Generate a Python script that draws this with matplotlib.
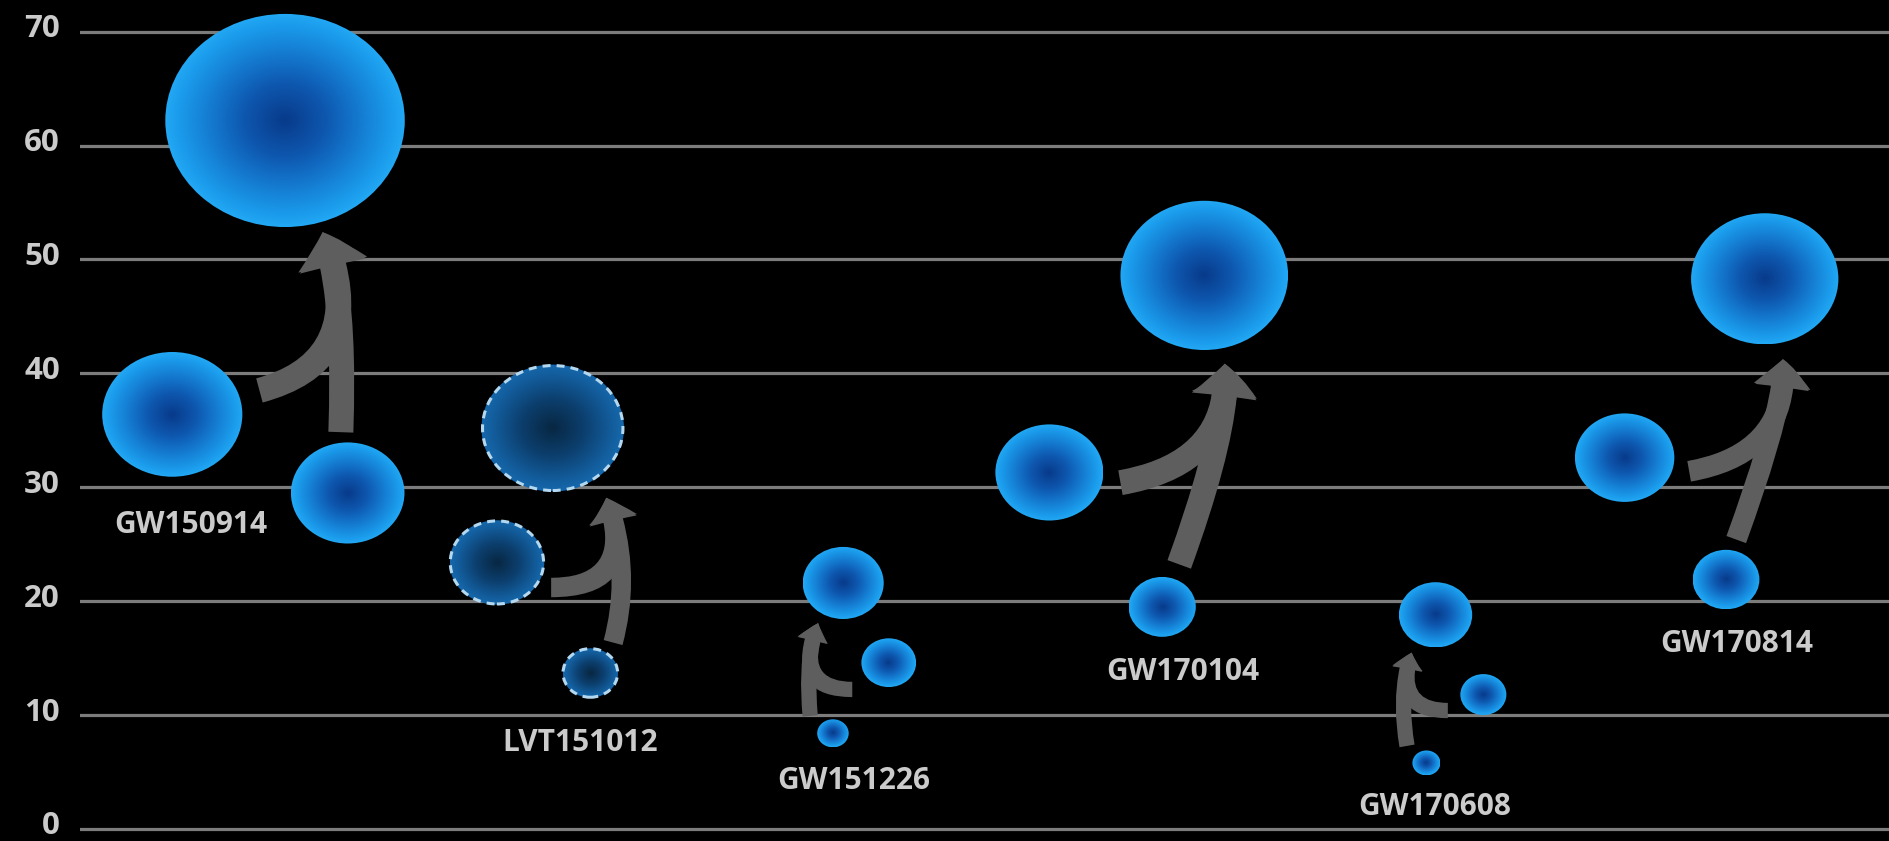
import numpy as np
import matplotlib
matplotlib.use("Agg")
import matplotlib.pyplot as plt
from matplotlib.patches import Ellipse, FancyArrowPatch, ArrowStyle
from matplotlib.colors import LinearSegmentedColormap
from matplotlib.transforms import blended_transform_factory

# ---------------- data (solar masses) ----------------
events = ['GW150914', 'LVT151012', 'GW151226', 'GW170104', 'GW170608', 'GW170814']
primary_mass = [36.4, 23.4, 14.6, 31.3, 11.8, 32.6]
secondary_mass = [29.5, 13.7, 8.4, 19.5, 5.8, 21.9]
final_mass = [62.2, 35.2, 21.6, 48.6, 18.8, 48.3]
candidate = [False, True, False, False, False, False]
y_ticks = [0, 10, 20, 30, 40, 50, 60, 70]
y_tick_labels = ['0', '10', '20', '30', '40', '50', '60', '70']

# ---------------- layout (not data) ----------------
PX = 11.391                 # pixels per y unit; x uses the same scale
event_x = [9.7, 43.9, 67.9, 96.8, 118.9, 145.4]
off_p = [-1.6, -7.3, 3.1, -11.7, 4.3, -9.8]
off_s = [13.8, 0.9, -1.8, -1.8, -0.7, -0.9]
off_f = [8.3, -2.4, -0.9, 1.9, 0.1, 2.5]
size_scale = [3.85, 4.05, 3.75, 3.45, 3.9, 3.05]   # px of width per unit mass
label_y = [26.7, 7.55, 4.2, 13.8, 1.95, 16.25]

tip_dx = [3.3, 4.7, -2.2, 1.8, -2.1, 1.6]
tip_gap = [0.45, 0.55, 0.36, 1.2, 0.45, 1.3]
a_side = [1, 1, -1, 1, -1, 1]
a_gap = [1.5, 0.6, 0.8, 1.5, 1.1, 1.3]
a_dy = [2.1, -2.2, -2.35, -0.9, -1.4, -1.2]
a_angle = [15, 0, 180, 10, 180, 10]
b_dx = [-0.6, 2.0, -2.0, 1.5, -1.7, 0.9]
b_gap = [0.9, 0.5, 0.3, 1.1, 0.4, 0.9]
b_angle = [88, 75, 95, 70, 100, 70]
end_angle = [112, 110, 68, 95, 72, 95]
tail_w = [18, 14, 11, 18, 11, 15]
head_w = [50, 35, 22, 47, 22, 40]
head_l = [25, 17, 13, 23, 12, 20]

BG = 'black'
GRID = '#7c7c7c'
ARROW = '#5e5e5e'
TXT = '#cbcbcb'

ball_cmap = LinearSegmentedColormap.from_list(
    'ball', [(0, '#083a8a'), (0.35, '#0e58b0'), (0.7, '#1684d8'),
             (0.9, '#1b9cec'), (1.0, '#22a8f4')])
cand_cmap = LinearSegmentedColormap.from_list(
    'cand', [(0, '#082742'), (0.45, '#0c3f6e'), (0.8, '#125a98'),
             (1.0, '#1668ac')])

plt.rcParams['font.family'] = ['Open Sans', 'DejaVu Sans']

fig = plt.figure(figsize=(18.9, 8.41), dpi=100, facecolor=BG)
ax = fig.add_axes([80 / 1890, 0, 1 - 80 / 1890, 1])
ax.set_facecolor(BG)
XMAX = 1810 / PX
YMIN, YMAX = (829 - 841) / PX, 829 / PX


def size_of(mass, k):
    w_px = max(k * mass, 28)
    return w_px / PX, 0.89 * w_px / PX


def draw_ball(x, y, w, h, cmap, dashed):
    n = 220
    yy, xx = np.mgrid[-1:1:n * 1j, -1:1:n * 1j]
    r = np.sqrt(xx ** 2 + yy ** 2)
    im = ax.imshow(r, cmap=cmap, vmin=0, vmax=1, origin='lower',
                   extent=(x - w / 2, x + w / 2, y - h / 2, y + h / 2),
                   aspect='auto', interpolation='bilinear', zorder=3)
    clip = Ellipse((x, y), w, h, facecolor='none', edgecolor='none',
                   transform=ax.transData)
    ax.add_patch(clip)
    im.set_clip_path(clip)
    if dashed:
        ax.add_patch(Ellipse((x, y), w * 0.985, h * 0.985, fill=False,
                             edgecolor='#b3d8f0', lw=2.2,
                             linestyle=(0, (2.6, 2.0)), zorder=4))


for i, name in enumerate(events):
    ex = event_x[i]
    k = size_scale[i]
    px_, sx_, fx_ = ex + off_p[i], ex + off_s[i], ex + off_f[i]
    pw, ph = size_of(primary_mass[i], k)
    sw, sh = size_of(secondary_mass[i], k)
    fw, fh = size_of(final_mass[i], k)
    cmap = cand_cmap if candidate[i] else ball_cmap
    draw_ball(px_, primary_mass[i], pw, ph, cmap, candidate[i])
    draw_ball(sx_, secondary_mass[i], sw, sh, cmap, candidate[i])
    draw_ball(fx_, final_mass[i], fw, fh, cmap, candidate[i])

    # merger arrows
    tip = (fx_ + tip_dx[i], final_mass[i] - fh / 2 - tip_gap[i])
    start_a = (px_ + a_side[i] * (pw / 2 + a_gap[i]), primary_mass[i] + a_dy[i])
    start_b = (sx_ + b_dx[i], secondary_mass[i] + sh / 2 + b_gap[i])
    style = ArrowStyle('simple', head_length=head_l[i], head_width=head_w[i],
                       tail_width=tail_w[i])
    for st, ang in ((start_a, a_angle[i]), (start_b, b_angle[i])):
        arr = FancyArrowPatch(st, tip, arrowstyle=style,
                              connectionstyle=f'angle3,angleA={ang},angleB={end_angle[i]}',
                              mutation_scale=1, color=ARROW, shrinkA=0, shrinkB=0,
                              lw=0, zorder=2)
        ax.add_patch(arr)

    ax.text(ex, label_y[i], name, ha='center', va='center', fontsize=21.5,
            color=TXT, fontweight='bold', zorder=5)

ax.set_xlim(0, XMAX)
ax.set_ylim(YMIN, YMAX)
ax.set_yticks(y_ticks)
ax.set_yticklabels([])
ax.set_xticks([])
ax.yaxis.grid(True, color=GRID, lw=2.3)
ax.set_axisbelow(True)
for sp in ax.spines.values():
    sp.set_visible(False)
ax.tick_params(axis='y', length=0)

# y tick labels drawn on the blended (axes-x, data-y) transform
trans = blended_transform_factory(ax.transAxes, ax.transData)
for v, lab in zip(y_ticks, y_tick_labels):
    ax.text(-20 / 1810, v - 5.5 / PX, lab, transform=trans, ha='right',
            va='baseline', fontsize=22.5, fontweight='bold', color=TXT,
            clip_on=False)

fig.savefig('out.png', dpi=100, facecolor=BG)
